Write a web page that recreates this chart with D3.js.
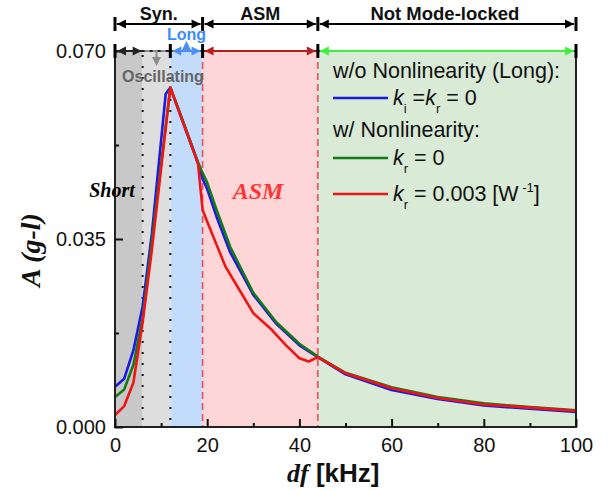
<!DOCTYPE html>
<html><head><meta charset="utf-8">
<script src="https://cdn.jsdelivr.net/npm/d3@7"></script>
<style>
html,body{margin:0;padding:0;background:#fff;}
svg{display:block;font-family:"Liberation Sans",Arial,sans-serif;}
</style></head>
<body><svg id="c" width="614" height="491"></svg>
<script>
// ---- data ----
const dfBlue  = [0,2,4,6,8,11,12,14,16,18,19,20,22,25,30,35,40,44,50,60,70,80,90,100];
const aBlue   = [0.0075,0.0090,0.0143,0.0225,0.0360,0.0620,0.0632,0.0585,0.0538,0.0491,0.0462,0.0443,0.0392,0.0325,0.0246,0.0192,0.0152,0.0130,0.0098,0.0069,0.0052,0.0040,0.0034,0.0028];
const dfGreen = [0,2,4,6,8,10,12,14,16,18,19,20,22,25,30,35,40,44,50,60,70,80,90,100];
const aGreen  = [0.0056,0.0070,0.0116,0.0203,0.0345,0.0490,0.0632,0.0587,0.0540,0.0493,0.0473,0.0455,0.0405,0.0335,0.0250,0.0195,0.0155,0.0131,0.0101,0.0074,0.0056,0.0044,0.0037,0.0031];
const dfRed   = [0,2,4,6,8,10,12,14,16,18,19,20,22,24,27,30,34,37,40,42,44,50,60,70,80,90,100];
const aRed    = [0.0022,0.0039,0.0083,0.0195,0.0330,0.0481,0.0632,0.0585,0.0538,0.0491,0.0404,0.0382,0.0340,0.0298,0.0255,0.0212,0.0181,0.0153,0.0128,0.0122,0.0130,0.0100,0.0072,0.0054,0.0042,0.0036,0.0030];
const regionBounds = [0,6,12,19,44,100];
const regionColors = ["#c8c8c8","#dedede","#c4dcfc","#ffd6d8","#d9ead6"];
const xTicks = [0,20,40,60,80,100];
const xMinor = [10,30,50,70,90];
const yTicks = [0,0.035,0.070];
const yMinor = [0.0175,0.0525];
const topLabels = ["Syn.","ASM","Not Mode-locked"];

// ---- layout ----
const svg = d3.select("#c");
const L=115,R=576,T=51,B=427;
const x = d3.scaleLinear().domain([0,100]).range([L,R]);
const y = d3.scaleLinear().domain([0,0.07]).range([B,T]);

// regions
const regs = d3.range(regionColors.length).map(i=>({a:regionBounds[i],b:regionBounds[i+1],c:regionColors[i]}));
svg.append("g").selectAll("rect").data(regs).join("rect")
  .attr("x",d=>x(d.a)).attr("width",d=>x(d.b)-x(d.a))
  .attr("y",T).attr("height",B-T).attr("fill",d=>d.c);

// dotted boundaries
svg.append("g").selectAll("line").data([regionBounds[1],regionBounds[2]]).join("line")
  .attr("x1",d=>x(d)).attr("x2",d=>x(d)).attr("y1",T+4).attr("y2",B)
  .attr("stroke","#111").attr("stroke-width",2).attr("stroke-dasharray","2,9");
// dashed red boundaries
svg.append("g").selectAll("line").data([regionBounds[3],regionBounds[4]]).join("line")
  .attr("x1",d=>x(d)).attr("x2",d=>x(d)).attr("y1",T).attr("y2",B)
  .attr("stroke","#e8505a").attr("stroke-width",1.6).attr("stroke-dasharray","7,4");

// curves
const line = d3.line().x(d=>x(d[0])).y(d=>y(d[1]));
const series = [
  {xs:dfBlue,ys:aBlue,c:"#1a1ae6"},
  {xs:dfGreen,ys:aGreen,c:"#157a15"},
  {xs:dfRed,ys:aRed,c:"#f01414"}
];
svg.append("g").selectAll("path").data(series).join("path")
  .attr("d",s=>line(s.xs.map((v,i)=>[v,s.ys[i]])))
  .attr("fill","none").attr("stroke",s=>s.c).attr("stroke-width",2.6).attr("stroke-linejoin","round");

// frame
svg.append("rect").attr("x",L).attr("y",T).attr("width",R-L).attr("height",B-T)
  .attr("fill","none").attr("stroke","#222").attr("stroke-width",2);

// axes
const fs = "20px";
const gx = svg.append("g").attr("transform",`translate(0,${B})`)
  .call(d3.axisBottom(x).tickValues(xTicks).tickSize(-8).tickPadding(11).tickFormat(d3.format("d")));
const gxm = svg.append("g").attr("transform",`translate(0,${B})`)
  .call(d3.axisBottom(x).tickValues(xMinor).tickSize(-4).tickFormat(""));
const gy = svg.append("g").attr("transform",`translate(${L},0)`)
  .call(d3.axisLeft(y).tickValues(yTicks).tickSize(-8).tickPadding(9).tickFormat(d3.format(".3f")));
const gym = svg.append("g").attr("transform",`translate(${L},0)`)
  .call(d3.axisLeft(y).tickValues(yMinor).tickSize(-4).tickFormat(""));
[gx,gxm,gy,gym].forEach(g=>{
  g.select(".domain").remove();
  g.selectAll(".tick line").attr("stroke","#111").attr("stroke-width",2);
  g.selectAll("text").attr("font-size",fs).attr("font-family","'Liberation Sans',Arial,sans-serif").attr("fill","#111");
});

// axis titles
const xt = svg.append("text").attr("x",287).attr("y",482).attr("font-size","26px").attr("font-weight","bold").attr("fill","#111");
xt.append("tspan").attr("font-family","'Liberation Serif','Times New Roman',serif").attr("font-style","italic").text("df");
xt.append("tspan").attr("font-family","'Liberation Sans',Arial,sans-serif").text(" [kHz]");

svg.append("text").attr("transform","translate(40,250) rotate(-90)").attr("text-anchor","middle")
  .attr("font-family","'Liberation Serif','Times New Roman',serif").attr("font-size","28px")
  .attr("font-weight","bold").attr("font-style","italic").attr("fill","#111").text("A (g-l)");

// in-plot labels
svg.append("text").attr("x",112).attr("y",197).attr("text-anchor","middle")
  .attr("font-family","'Liberation Serif','Times New Roman',serif").attr("font-size","20px")
  .attr("font-weight","bold").attr("font-style","italic").attr("fill","#000").text("Short");
svg.append("text").attr("x",258).attr("y",199).attr("text-anchor","middle")
  .attr("font-family","'Liberation Serif','Times New Roman',serif").attr("font-size","24px")
  .attr("font-weight","bold").attr("font-style","italic").attr("fill","#ff3535").text("ASM");

// ---- top annotations ----
const ann = svg.append("g");
function head(px,py,dir,color){ // dir: 'l','r','u','d'
  const l=9,w=4.5;
  let p;
  if(dir==="r") p=`M${px},${py}L${px-l},${py-w}L${px-l},${py+w}Z`;
  if(dir==="l") p=`M${px},${py}L${px+l},${py-w}L${px+l},${py+w}Z`;
  if(dir==="u") p=`M${px},${py}L${px-w},${py+l}L${px+w},${py+l}Z`;
  if(dir==="d") p=`M${px},${py}L${px-w},${py-l}L${px+w},${py-l}Z`;
  ann.append("path").attr("d",p).attr("fill",color);
}
function harrow(x1,x2,yy,color,dash){
  ann.append("line").attr("x1",x1+2).attr("x2",x2-2).attr("y1",yy).attr("y2",yy)
    .attr("stroke",color).attr("stroke-width",2).attr("stroke-dasharray",dash||null);
  head(x1+2,yy,"l",color); head(x2-2,yy,"r",color);
}
function bar(px,yy){
  ann.append("line").attr("x1",px).attr("x2",px).attr("y1",yy-7).attr("y2",yy+7)
    .attr("stroke","#000").attr("stroke-width",3);
}
// row 1
const y1=24;
harrow(x(0),x(19),y1,"#000");
harrow(x(19),x(44),y1,"#000");
harrow(x(44),x(100),y1,"#000");
[0,19,44,100].forEach(v=>bar(x(v),y1));
const lblPos=[[0,19],[19,44],[44,100]];
topLabels.forEach((t,i)=>{
  ann.append("text").attr("x",(x(lblPos[i][0])+x(lblPos[i][1]))/2+(i===2?-2:0)).attr("y",20)
    .attr("text-anchor","middle").attr("font-size",i===2?"18.5px":"18px").attr("font-weight","bold")
    .attr("fill","#111").text(t);
});
// row 2
const y2=T;
harrow(x(0),x(6)+1,y2,"#222");
ann.append("line").attr("x1",x(6)+2).attr("x2",x(12)-2).attr("y1",y2).attr("y2",y2)
  .attr("stroke","#8c8c8c").attr("stroke-width",2).attr("stroke-dasharray","5,3");
ann.append("line").attr("x1",x(9)).attr("x2",x(9)).attr("y1",y2).attr("y2",y2+8)
  .attr("stroke","#8c8c8c").attr("stroke-width",2);
head(x(9),y2+15,"d","#8c8c8c");
harrow(x(12),x(19),y2,"#4b8ef5");
ann.append("line").attr("x1",x(15.5)).attr("x2",x(15.5)).attr("y1",y2).attr("y2",y2-4)
  .attr("stroke","#4b8ef5").attr("stroke-width",2);
head(x(15.5),y2-10,"u","#4b8ef5");
harrow(x(19),x(44),y2,"#b42020");
harrow(x(44),x(100),y2,"#3cf03c");
[0,12,19,44,100].forEach(v=>bar(x(v),y2));
ann.append("text").attr("x",x(15.5)).attr("y",40).attr("text-anchor","middle")
  .attr("font-size","16px").attr("font-weight","bold").attr("fill","#3c8cff").text("Long");
ann.append("text").attr("x",163).attr("y",82).attr("text-anchor","middle")
  .attr("font-size","16px").attr("font-weight","bold").attr("fill","#666").text("Oscillating");

// ---- legend ----
const lg = svg.append("g").attr("font-size","21.5px").attr("fill","#111");
const lx=333, tx=393;
lg.append("text").attr("x",lx).attr("y",78).text("w/o Nonlinearity (Long):");
lg.append("text").attr("x",lx).attr("y",137).text("w/ Nonlinearity:");
const items=[{y:98,c:"#1a1ae6"},{y:158,c:"#157a15"},{y:194,c:"#f01414"}];
lg.selectAll("line").data(items).join("line")
  .attr("x1",lx).attr("x2",388).attr("y1",d=>d.y).attr("y2",d=>d.y)
  .attr("stroke",d=>d.c).attr("stroke-width",2.6);
function kText(yb){ return lg.append("text").attr("x",tx).attr("y",yb); }
let t1=kText(105);
t1.append("tspan").attr("font-style","italic").text("k");
t1.append("tspan").attr("font-size","13px").attr("dy",8).text("i");
t1.append("tspan").attr("dy",-8).text(" =");
t1.append("tspan").attr("font-style","italic").text("k");
t1.append("tspan").attr("font-size","13px").attr("dy",8).text("r");
t1.append("tspan").attr("dy",-8).text(" = 0");
let t2=kText(165);
t2.append("tspan").attr("font-style","italic").text("k");
t2.append("tspan").attr("font-size","13px").attr("dy",8).text("r");
t2.append("tspan").attr("dy",-8).text(" = 0");
let t3=kText(201);
t3.append("tspan").attr("font-style","italic").text("k");
t3.append("tspan").attr("font-size","13px").attr("dy",8).text("r");
t3.append("tspan").attr("dy",-8).text(" = 0.003 [W");
t3.append("tspan").attr("font-size","13px").attr("dy",-9).text(" -1");
t3.append("tspan").attr("dy",9).text("]");
</script></body></html>
